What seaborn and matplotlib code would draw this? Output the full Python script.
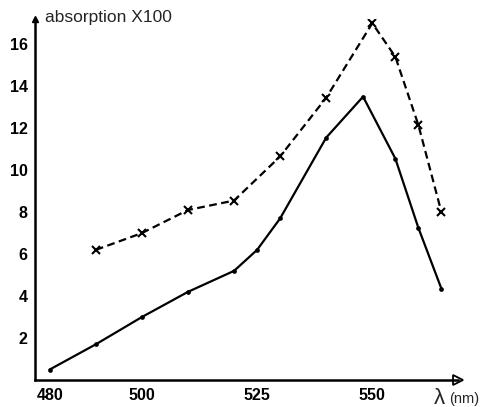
"""
Spectre d'absorption : deux courbes (trait plein et tirets)
"""

import pandas as pd
import matplotlib.pyplot as plt
import seaborn as sns

# Données
wavelength_solid = [480, 490, 500, 510, 520, 525, 530, 540, 548, 555, 560, 565]
absorb_solid = [0.5, 1.7, 3.0, 4.2, 5.2, 6.2, 7.7, 11.55, 13.5, 10.55, 7.25, 4.35]

wavelength_dash = [490, 500, 510, 520, 530, 540, 550, 555, 560, 565]
absorb_dash = [6.2, 7.0, 8.1, 8.55, 10.65, 13.45, 17.0, 15.4, 12.15, 8.0]

major_ticks = [480, 500, 525, 550]
minor_ticks = [490, 510, 520, 530, 540, 560, 565]
y_ticks = [2, 4, 6, 8, 10, 12, 14, 16]

sns.set_style("white")
plt.rcParams['font.family'] = ['Liberation Sans', 'DejaVu Sans']

df_solid = pd.DataFrame({"nm": wavelength_solid, "abs": absorb_solid})
df_dash = pd.DataFrame({"nm": wavelength_dash, "abs": absorb_dash})

fig = plt.figure(figsize=(4.84, 4.07), dpi=100)
ax = fig.add_axes([0.0713, 0.0663, 0.875, 0.887])

sns.lineplot(data=df_solid, x="nm", y="abs", ax=ax, color="black",
             linewidth=1.6, marker="o", markersize=3.4,
             markeredgecolor="black", markeredgewidth=0)
sns.lineplot(data=df_dash, x="nm", y="abs", ax=ax, color="black",
             linewidth=1.6, linestyle=(0, (3.5, 2)), marker="x",
             markersize=6, markeredgecolor="black", markeredgewidth=1.5)

ax.set_xlim(476.7, 568.6)
ax.set_ylim(0, 17.2)

# Axes en flèches
for side in ["top", "right"]:
    ax.spines[side].set_visible(False)
for side in ["left", "bottom"]:
    ax.spines[side].set_linewidth(1.8)
    ax.spines[side].set_color("black")
ax.plot(1, 0, ">", transform=ax.transAxes, clip_on=False, color="black",
        markersize=7, markerfacecolor="none", markeredgewidth=1.3)
ax.plot(0, 1, "^", transform=ax.transAxes, clip_on=False, color="black",
        markersize=5)

ax.set_xticks(major_ticks)
ax.set_xticks(minor_ticks, minor=True)
ax.set_yticks(y_ticks)
ax.tick_params(axis="both", which="both", direction="in", length=4,
               width=1.3, colors="black", labelsize=11.5)
ax.tick_params(axis="x", pad=6)
ax.tick_params(axis="y", pad=5)
for lab in ax.get_xticklabels() + ax.get_yticklabels():
    lab.set_fontweight("bold")
ax.set_xlabel("")
ax.set_ylabel("")
ax.grid(False)

fig.text(0.093, 0.958, "absorption X100", fontsize=12.5, va="center", ha="left")
fig.text(0.896, 0.022, "λ", fontsize=16, va="center", ha="left")
fig.text(0.928, 0.020, "(nm)", fontsize=10.5, va="center", ha="left")

plt.savefig("out.png", dpi=100)
plt.close()
